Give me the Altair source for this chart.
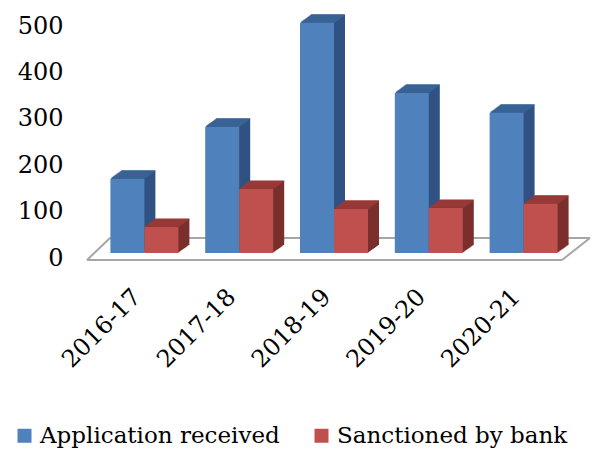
import altair as alt
import pandas as pd

years = ["2016-17", "2017-18", "2018-19", "2019-20", "2020-21"]
applications = [160, 272, 496, 345, 302]
sanctioned = [56, 138, 95, 97, 106]
series_names = ["Application received", "Sanctioned by bank"]

front_colors = ["#4f81bd", "#c0504d"]
top_colors = ["#3b6597", "#9a3c39"]
side_colors = ["#2f5283", "#7b2f2d"]

rows = []
for y, a, s in zip(years, applications, sanctioned):
    rows.append({"year": y, "value": a, "series": series_names[0]})
    rows.append({"year": y, "value": s, "series": series_names[1]})
df = pd.DataFrame(rows)

W, H = 474, 232
BAR_W = 34
DEPTH = 11
DY = 8.0 / 11.0
FONT = "DejaVu Serif"

xscale = alt.Scale(domain=years, paddingInner=0, paddingOuter=0)
yscale = alt.Scale(domain=[0, 500], nice=False, zero=True)

x_enc = alt.X("year:N", scale=xscale, sort=years,
              axis=alt.Axis(title=None, labelAngle=-45, labelAlign="right",
                            labelBaseline="middle", labelFont=FONT,
                            labelFontSize=24, labelColor="black",
                            ticks=False, domain=False, labelPadding=40,
                            labelOffset=-7))
y_enc = alt.Y("value:Q", scale=yscale,
              axis=alt.Axis(title=None, values=[0, 100, 200, 300, 400, 500],
                            labelFont=FONT, labelFontSize=24, labelColor="black",
                            ticks=False, domain=False, grid=False,
                            labelPadding=34, labelOffset=5))

layers = []

# floor (3D base)
floor_color = "#a6a6a6"
floor_base = alt.Chart(pd.DataFrame({"z": [0]}))
layers.append(floor_base.mark_rule(color=floor_color, strokeWidth=2, yOffset=7).encode(
    x=alt.value(-10), x2=alt.value(W - 9), y=alt.datum(0, scale=yscale)))
layers.append(floor_base.mark_rule(color=floor_color, strokeWidth=2, yOffset=-15).encode(
    x=alt.value(13), x2=alt.value(W + 19), y=alt.datum(0, scale=yscale)))
layers.append(floor_base.mark_rule(color=floor_color, strokeWidth=2, yOffset=7, y2Offset=-15).encode(
    x=alt.value(-10), x2=alt.value(13), y=alt.datum(0, scale=yscale), y2=alt.datum(0)))
layers.append(floor_base.mark_rule(color=floor_color, strokeWidth=2, yOffset=7, y2Offset=-15).encode(
    x=alt.value(W - 9), x2=alt.value(W + 19), y=alt.datum(0, scale=yscale), y2=alt.datum(0)))

for si, name in enumerate(series_names):
    shift = -BAR_W / 2 if si == 0 else BAR_W / 2
    base = alt.Chart(df).transform_filter(alt.datum.series == name)
    # side extrusion
    for i in range(1, DEPTH + 1):
        layers.append(base.mark_bar(size=BAR_W, color=side_colors[si],
                                    xOffset=shift + i, yOffset=-i * DY,
                                    y2Offset=-i * DY).encode(x=x_enc, y=y_enc))
    # top face
    for i in range(1, DEPTH + 1):
        layers.append(base.mark_tick(size=BAR_W, thickness=1.6, color=top_colors[si],
                                     orient="horizontal",
                                     xOffset=shift + i, yOffset=-i * DY).encode(x=x_enc, y=y_enc))
    # front face
    layers.append(base.mark_bar(size=BAR_W, xOffset=shift).encode(
        x=x_enc, y=y_enc,
        color=alt.Color("series:N",
                        scale=alt.Scale(domain=series_names, range=front_colors),
                        legend=alt.Legend(title=None, orient="none", direction="horizontal",
                                          legendX=-84, legendY=403,
                                          labelFont=FONT, labelFontSize=23,
                                          labelColor="black", symbolType="square",
                                          symbolSize=196, symbolStrokeWidth=0,
                                          labelOffset=4, columnPadding=30,
                                          labelLimit=400))))

chart = alt.layer(*layers).properties(
    width=W, height=H,
    autosize=alt.AutoSizeParams(type="none"),
    padding={"left": 89, "top": 13, "right": 22, "bottom": 196},
    background="white",
).configure_view(stroke=None)

chart.save("out.html", embed_options={"renderer": "svg", "actions": False})
